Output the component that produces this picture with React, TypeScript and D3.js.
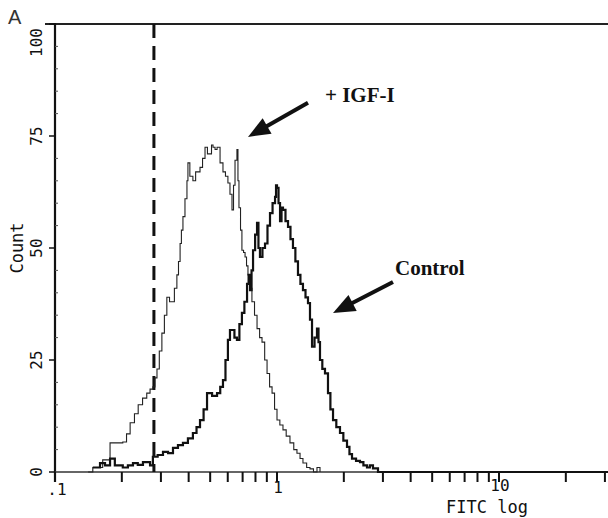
import React from 'react';
import * as d3 from 'd3';

// FITC log channel values and counts
const igfX = [0.141, 0.148, 0.164, 0.177, 0.181, 0.202, 0.21, 0.218, 0.228, 0.237, 0.248, 0.259, 0.268, 0.276, 0.282, 0.288, 0.295, 0.303, 0.311, 0.319, 0.328, 0.337, 0.345, 0.354, 0.36, 0.366, 0.371, 0.377, 0.385, 0.393, 0.397, 0.405, 0.418, 0.43, 0.45, 0.462, 0.474, 0.486, 0.499, 0.507, 0.515, 0.526, 0.537, 0.554, 0.571, 0.586, 0.601, 0.614, 0.627, 0.637, 0.647, 0.66, 0.667, 0.674, 0.685, 0.695, 0.707, 0.718, 0.729, 0.74, 0.755, 0.771, 0.792, 0.813, 0.835, 0.856, 0.88, 0.902, 0.926, 0.95, 0.975, 1.0, 1.03, 1.064, 1.1, 1.144, 1.19, 1.23, 1.27, 1.309, 1.36, 1.408, 1.46, 1.514, 1.562];
const igfY = [0, 1, 2.7, 6.5, 6.5, 6.7, 8.5, 11, 13, 15, 16.5, 17.6, 18.5, 19, 21, 23, 27, 31, 35, 39, 38, 38, 41, 44, 47, 51, 54, 57, 61, 65, 69, 66, 65, 67, 68, 70, 72.5, 71, 71, 73, 72.5, 72, 72.5, 69, 67, 66, 64.5, 62, 58.5, 64, 69.6, 72, 65, 59, 54, 49.5, 49, 48, 46, 44, 41, 38, 35, 32, 30, 29, 25, 22, 19, 17.6, 14, 11.6, 10.5, 9.4, 8, 6.5, 5, 4.2, 3, 2, 1, 0.7, 0, 1, 0];

const ctrlX = [0.148, 0.1595, 0.168, 0.177, 0.186, 0.202, 0.213, 0.2245, 0.236, 0.249, 0.268, 0.276, 0.29, 0.3065, 0.323, 0.34, 0.358, 0.377, 0.397, 0.418, 0.434, 0.45, 0.467, 0.484, 0.51, 0.537, 0.555, 0.571, 0.586, 0.601, 0.614, 0.627, 0.643, 0.66, 0.677, 0.695, 0.713, 0.733, 0.745, 0.756, 0.768, 0.78, 0.797, 0.813, 0.825, 0.838, 0.86, 0.883, 0.906, 0.93, 0.955, 0.98, 0.99, 1.0, 1.016, 1.032, 1.048, 1.064, 1.092, 1.121, 1.15, 1.18, 1.21, 1.243, 1.275, 1.309, 1.344, 1.379, 1.408, 1.438, 1.476, 1.514, 1.538, 1.562, 1.6, 1.645, 1.697, 1.74, 1.788, 1.85, 1.922, 1.99, 2.067, 2.12, 2.177, 2.27, 2.365, 2.45, 2.543, 2.62, 2.706, 2.851, 40];
const ctrlY = [1, 2, 1.5, 3, 1.5, 1, 1.5, 2, 1.6, 2.2, 1.5, 3.4, 3.8, 4.5, 4.2, 5.4, 6, 6.5, 7.5, 8.7, 10, 11.6, 14, 17.6, 17, 17.6, 19, 20.5, 25, 29.5, 31.7, 31.7, 30, 29.5, 33, 35.5, 38, 42, 44, 40.6, 45, 49.5, 53, 55.6, 50, 48, 50, 51, 55, 57.8, 60, 61.4, 64, 63.4, 60, 56, 59, 58.5, 56, 54.7, 52, 50, 47, 44, 42, 40.6, 39, 37.7, 34, 28, 30, 32, 29, 25, 23, 22, 17.6, 14, 11.6, 10, 8.7, 7, 5.6, 4, 3, 2.5, 2.2, 1.5, 1, 1.5, 0.8, 0, 0];

const xLabels = ['.1', '1', '10'];
const xLabelValues = [0.1, 1, 10];
const yTickValues = [0, 25, 50, 75, 100];

// annotation anchors in data space: [fitc, count]
const igfArrow = [[1.379, 82.4], [0.74, 74.8]];
const igfLabel = [1.645, 82.6];
const ctrlArrow = [[3.33, 42.4], [1.788, 35.5]];
const ctrlLabel = [3.4, 44];
const gateValue = 0.279;

const W = 608;
const H = 518;
const mono = "'DejaVu Sans Mono', monospace";
const serif = "'Liberation Serif', 'Times New Roman', serif";

export default function App() {
  const x = d3.scaleLog().domain([0.1, 100]).range([55, 721]);
  const y = d3.scaleLinear().domain([0, 100]).range([472, 24]);

  const path = (xs: number[], ys: number[]) =>
    d3
      .line<number>()
      .x((d) => x(d))
      .y((_, i) => y(ys[i]))
      .curve(d3.curveStepAfter)(xs) || '';

  const xTicks = x.ticks().filter((t) => t <= 30);
  const yMinor = d3.range(5, 100, 5).filter((v) => v % 25 !== 0);

  const arrow = (pts: number[][], key: string) => {
    const [x1, y1] = [x(pts[0][0]), y(pts[0][1])];
    const [x2, y2] = [x(pts[1][0]), y(pts[1][1])];
    const ang = Math.atan2(y2 - y1, x2 - x1);
    const len = 22;
    const half = 9;
    const bx = x2 - len * Math.cos(ang);
    const by = y2 - len * Math.sin(ang);
    const px = -Math.sin(ang) * half;
    const py = Math.cos(ang) * half;
    return (
      <g key={key}>
        <line x1={x1} y1={y1} x2={bx + 3 * Math.cos(ang)} y2={by + 3 * Math.sin(ang)} stroke="#111" strokeWidth={4} />
        <polygon points={`${x2},${y2} ${bx + px},${by + py} ${bx - px},${by - py}`} fill="#111" />
      </g>
    );
  };

  return (
    <div>
      <style>{'body{margin:0}'}</style>
      <svg width={W} height={H} style={{ display: 'block', background: '#fff' }}>
        <text x={8} y={24} fontFamily="'Liberation Sans', sans-serif" fontSize={20} fontWeight={300} fill="#333">A</text>

        {/* frame */}
        <line x1={45} x2={W} y1={y(100)} y2={y(100)} stroke="#222" strokeWidth={2} />
        <line x1={x(0.1)} x2={x(0.1)} y1={y(100) - 1} y2={482} stroke="#111" strokeWidth={2.2} />
        <line x1={x(0.1)} x2={W} y1={y(0)} y2={y(0)} stroke="#333" strokeWidth={1.3} />

        {/* y ticks */}
        {yTickValues.map((v) => (
          <line key={'yt' + v} x1={x(0.1) - 6} x2={x(0.1)} y1={y(v)} y2={y(v)} stroke="#111" strokeWidth={1.5} />
        ))}
        {yMinor.map((v) => (
          <line key={'ym' + v} x1={x(0.1)} x2={x(0.1) + 3} y1={y(v)} y2={y(v)} stroke="#555" strokeWidth={1} />
        ))}
        {yTickValues.map((v) => (
          <text
            key={'yl' + v}
            transform={`translate(42,${v === 100 ? y(v) + 4 : y(v)}) rotate(-90)`}
            textAnchor={v === 100 ? 'end' : 'middle'}
            fontFamily={mono}
            fontSize={16}
            fill="#111"
          >
            {v}
          </text>
        ))}
        <text transform={`translate(23,${y(50)}) rotate(-90)`} textAnchor="middle" fontFamily={mono} fontSize={17} fill="#111">Count</text>

        {/* x ticks */}
        {xTicks.map((t, i) => (
          <line key={'xt' + i} x1={x(t)} x2={x(t)} y1={y(0)} y2={y(0) + 10} stroke="#111" strokeWidth={2} />
        ))}
        {xLabels.map((l, i) => (
          <text key={'xl' + l} x={x(xLabelValues[i]) + (i === 0 ? 2 : 1)} y={495 - i * 2} textAnchor="middle" fontFamily={mono} fontSize={16} fill="#111">
            {l}
          </text>
        ))}
        <text x={446} y={513} fontFamily={mono} fontSize={17} fill="#111">FITC log</text>

        {/* gate */}
        <line x1={x(gateValue)} x2={x(gateValue)} y1={y(100)} y2={y(0)} stroke="#111" strokeWidth={3} strokeDasharray="14,8" />

        {/* histograms */}
        <path d={path(igfX, igfY)} fill="none" stroke="#222" strokeWidth={1.1} />
        <path d={path(ctrlX, ctrlY)} fill="none" stroke="#111" strokeWidth={2.2} />

        {/* annotations */}
        {arrow(igfArrow, 'a1')}
        {arrow(ctrlArrow, 'a2')}
        <text x={x(igfLabel[0])} y={y(igfLabel[1])} fontFamily={serif} fontWeight="bold" fontSize={21} fill="#111">+ IGF-I</text>
        <text x={x(ctrlLabel[0])} y={y(ctrlLabel[1])} fontFamily={serif} fontWeight="bold" fontSize={21} fill="#111">Control</text>
      </svg>
    </div>
  );
}
